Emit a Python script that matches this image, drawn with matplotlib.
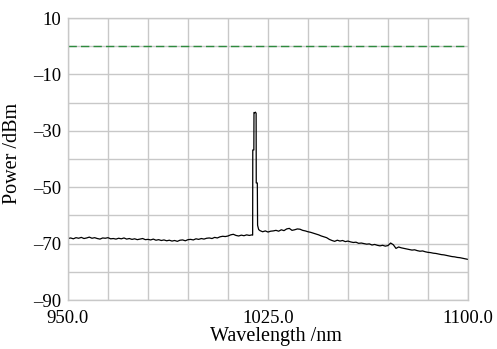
import numpy as np
import matplotlib.pyplot as plt

# spectrum (nm, dBm)
wl_left = np.arange(950, 1019, 1.0)
pw_left = [-68.2, -68.0, -68.3, -67.9, -68.1, -67.8, -68.2, -68.0, -67.7, -68.1,
           -67.9, -68.2, -68.4, -68.0, -68.1, -67.9, -68.3, -68.2, -68.4, -68.1,
           -68.3, -68.0, -68.4, -68.2, -68.5, -68.3, -68.6, -68.4, -68.2, -68.6,
           -68.5, -68.7, -68.4, -68.8, -68.6, -68.9, -68.7, -69.0, -68.8, -69.1,
           -68.9, -69.2, -68.8, -68.7, -69.0, -68.6, -68.5, -68.7, -68.3, -68.5,
           -68.2, -68.4, -68.1, -68.0, -68.2, -67.8, -68.0, -67.6, -67.4, -67.5,
           -67.3, -66.9, -66.7, -67.1, -67.3, -67.0, -67.2, -66.9, -67.1]

wl_peak = [1019.0, 1019.25, 1019.3, 1019.7, 1019.75, 1020.0, 1020.3, 1020.55,
           1020.6, 1021.0, 1021.1, 1021.5]
pw_peak = [-66.9, -67.0, -36.8, -36.8, -23.5, -23.6, -23.4, -23.8,
           -48.5, -48.5, -63.5, -65.0]

wl_right = np.arange(1022, 1101, 1.0)
pw_right = [-65.4, -65.8, -65.5, -65.9, -65.6, -65.5, -65.3, -65.6, -65.1, -65.4,
            -64.8, -64.6, -65.3, -65.1, -64.8, -64.9, -65.3, -65.5, -65.8, -66.0,
            -66.3, -66.6, -66.9, -67.3, -67.6, -67.9, -68.5, -68.9, -69.2, -68.8,
            -69.1, -68.9, -69.3, -69.1, -69.4, -69.6, -69.5, -69.9, -69.8, -70.0,
            -70.2, -70.1, -70.5, -70.3, -70.6, -70.8, -70.6, -70.9, -70.7, -69.8,
            -70.4, -71.7, -71.2, -71.5, -71.7, -71.9, -72.1, -72.3, -72.2, -72.5,
            -72.7, -72.6, -72.9, -73.1, -73.2, -73.4, -73.5, -73.7, -73.9, -74.0,
            -74.2, -74.4, -74.6, -74.7, -74.9, -75.0, -75.2, -75.4, -75.6]

ref_level = 0.0

wl = np.concatenate([wl_left, wl_peak, wl_right])
pw = np.concatenate([pw_left, pw_peak, pw_right])

plt.rcParams['font.family'] = ['Liberation Serif', 'DejaVu Serif']
plt.rcParams['font.size'] = 13.5

fig = plt.figure(figsize=(4.97, 3.49), dpi=100)
ax = fig.add_axes([0.1368, 0.1404, 0.8048, 0.808])

ax.plot(wl, pw, color='black', lw=0.9)
ax.axhline(ref_level, color='#2e8b3e', lw=1.0, ls=(0, (6, 3)))

ax.set_xlim(950, 1100)
ax.set_ylim(-90, 10)

xt = np.arange(950, 1101, 15)
ax.set_xticks(xt)
ax.set_xticklabels([f"{v:.1f}" if v in (950, 1025, 1100) else "" for v in xt])
yt = np.arange(-90, 11, 10)
ax.set_yticks(yt)
ax.set_yticklabels([str(v).replace('-', '\u2013') if v % 20 != 0 else "" for v in yt])

ax.tick_params(length=0)
ax.tick_params(axis='x', pad=7)
ax.tick_params(axis='y', pad=5)
ax.grid(True, color='#c8c8c8', lw=1.0)
ax.set_axisbelow(True)
for s in ax.spines.values():
    s.set_color('#c8c8c8')
    s.set_linewidth(1.0)

ax.set_xlabel("Wavelength /nm", fontsize=14.5, labelpad=0)
ax.xaxis.set_label_coords(0.52, -0.097)
ax.set_ylabel("Power /dBm", fontsize=14.5)
ax.yaxis.set_label_coords(-0.115, 0.52)

fig.savefig("out.png", dpi=100)
